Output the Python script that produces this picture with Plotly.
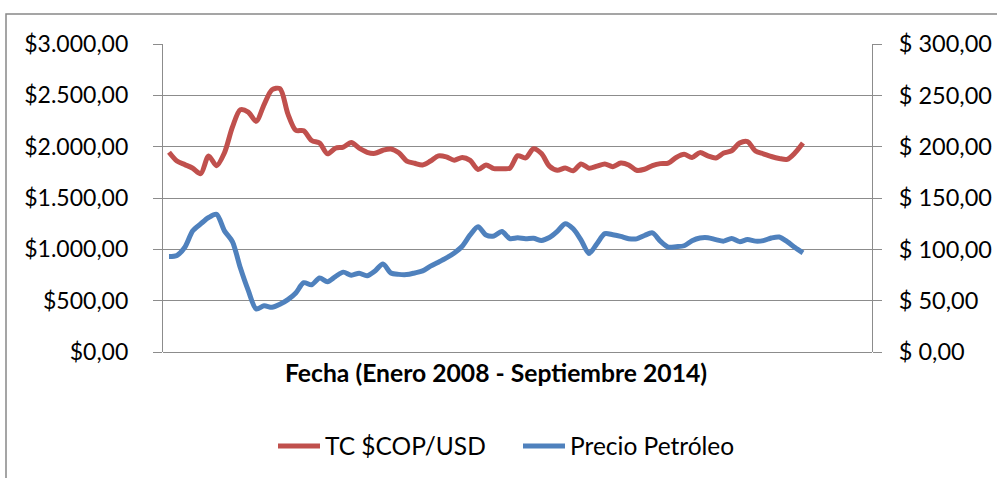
import pandas as pd
import plotly.graph_objects as go

# Monthly observations, January 2008 - September 2014
meses = pd.date_range("2008-01-01", periods=81, freq="MS").strftime("%Y-%m").tolist()

# Tasa de cambio COP por USD
tc_cop_usd = [
    1945, 1860, 1825, 1790, 1737, 1910, 1815, 1941, 2190, 2360,
    2337, 2247, 2410, 2555, 2565, 2320, 2160, 2155, 2060, 2035,
    1930, 1985, 1996, 2040, 1985, 1945, 1935, 1965, 1978, 1940,
    1860, 1838, 1822, 1860, 1910, 1900, 1868, 1895, 1866, 1778,
    1822, 1786, 1786, 1790, 1912, 1890, 1980, 1933, 1810, 1770,
    1792, 1765, 1832, 1790, 1810, 1832, 1805, 1840, 1822, 1770,
    1780, 1815, 1835, 1840, 1895, 1925, 1895, 1942, 1910, 1890,
    1938, 1960, 2035, 2050, 1958, 1930, 1904, 1885, 1876, 1940,
    2035,
]

# Precio del petróleo (USD por barril)
precio_petroleo = [
    93.1, 94.1, 102.0, 118.0, 124.8, 131.0, 134.0, 118.0, 107.5, 82.0,
    60.0, 42.0, 45.0, 43.5, 46.5, 51.0, 57.5, 67.5, 65.5, 72.0,
    68.5, 73.5, 77.8, 74.8, 76.7, 74.3, 79.0, 85.8, 77.0, 75.6,
    75.4, 77.0, 79.0, 83.7, 87.5, 91.6, 96.5, 103.0, 114.0, 122.0,
    114.0, 113.0, 117.3, 110.5, 111.2, 110.3, 110.8, 108.7, 111.5, 117.5,
    125.0, 120.0, 109.0, 96.0, 105.5, 115.3, 114.2, 112.6, 110.4, 110.2,
    113.5, 116.0, 108.0, 102.2, 102.6, 103.5, 108.3, 111.0, 111.3, 109.5,
    108.0, 110.6, 107.5, 109.5, 108.0, 108.5, 111.0, 112.0, 107.5, 101.8,
    96.5,
]

nombres = ["TC $COP/USD", "Precio Petróleo"]
titulo_x = "Fecha (Enero 2008 - Septiembre 2014)"

ROJO = "#C0504D"
AZUL = "#4F81BD"
GRIS = "#8C8C8C"
FUENTE = "Lato"

W, H = 997, 478
L, R, T, B = 163, 125, 44, 126
pw, ph = W - L - R, H - T - B


def px_x(x):
    return (x - L) / pw


def px_y(y):
    return (H - B - y) / ph


fig = go.Figure()
fig.add_trace(go.Scatter(
    x=meses, y=tc_cop_usd, name=nombres[0], mode="lines",
    line=dict(color=ROJO, width=5, shape="spline", smoothing=0.8),
    yaxis="y",
))
fig.add_trace(go.Scatter(
    x=meses, y=precio_petroleo, name=nombres[1], mode="lines",
    line=dict(color=AZUL, width=5, shape="spline", smoothing=0.8),
    yaxis="y2",
))

fig.update_layout(
    width=W, height=H,
    margin=dict(l=L, r=R, t=T, b=B, pad=0, autoexpand=False),
    paper_bgcolor="white", plot_bgcolor="white",
    separators=",.",
    font=dict(family=FUENTE, size=23, color="black"),
    showlegend=True,
    legend=dict(
        orientation="h", x=px_x(273), y=px_y(446),
        xanchor="left", yanchor="middle",
        font=dict(family=FUENTE, size=24.5, color="black"),
        itemwidth=42,
        entrywidth=188, entrywidthmode="pixels", tracegroupgap=0,
        bgcolor="rgba(0,0,0,0)",
    ),
    xaxis=dict(
        type="category", range=[-0.757, 88.71], automargin=False,
        showticklabels=False, showgrid=False, zeroline=False,
        showline=False, ticks="",
    ),
    yaxis=dict(
        range=[0, 3000], dtick=500, tickformat="$,.2f", automargin=False,
        showgrid=True, gridcolor=GRIS, gridwidth=1.2,
        zeroline=True, zerolinecolor=GRIS, zerolinewidth=1.2,
        showline=True, linecolor=GRIS, linewidth=1.2,
        ticks="outside", ticklen=9, tickcolor=GRIS, tickwidth=1.2,
        ticklabelstandoff=20,
        tickfont=dict(family=FUENTE, size=23, color="black"),
    ),
    yaxis2=dict(
        overlaying="y", side="right", automargin=False,
        range=[0, 300], dtick=50, tickprefix="$ ", tickformat=",.2f",
        showgrid=False, zeroline=False,
        showline=True, linecolor=GRIS, linewidth=1.2,
        ticks="outside", ticklen=9, tickcolor=GRIS, tickwidth=1.2,
        ticklabelstandoff=12,
        tickfont=dict(family=FUENTE, size=23.5, color="black"),
    ),
    shapes=[
        # chart-area frame
        dict(type="rect", xref="paper", yref="paper",
             x0=px_x(6), x1=px_x(1100), y0=px_y(700), y1=px_y(14),
             line=dict(color="#888888", width=1.5), fillcolor="rgba(0,0,0,0)",
             layer="below"),
    ],
    annotations=[
        dict(text="<b>" + titulo_x + "</b>", xref="paper", yref="paper",
             x=px_x(496), y=px_y(372), xanchor="center", yanchor="middle",
             showarrow=False, font=dict(family=FUENTE, size=24.7, color="black")),
    ],
)

fig.write_html("out.html")
